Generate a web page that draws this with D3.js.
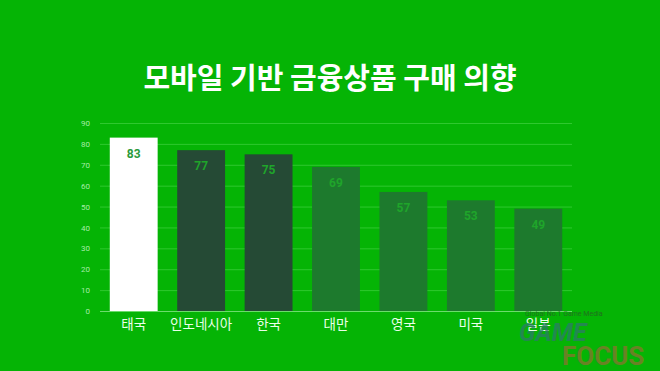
<!DOCTYPE html>
<html>
<head>
<meta charset="utf-8">
<script src="https://cdn.jsdelivr.net/npm/d3@7"></script>
<style>
  body { margin:0; background:#05b405; }
  svg { display:block; font-family:"Noto Sans CJK KR","Noto Sans",sans-serif; }
</style>
</head>
<body>
<script>
var W = 660, H = 371;
var plotLeft = 100, plotRight = 572, plotTop = 123, plotBottom = 311;

var countries = ['태국','인도네시아','한국','대만','영국','미국','일본'];
var values = [83, 77, 75, 69, 57, 53, 49];
var barColors = ['#ffffff','#254a35','#254a35','#1d7a2d','#1d7a2d','#1d7a2d','#1d7a2d'];
var valueColors = ['#2a9a3a','#1fa52a','#1fa52a','#1fa52a','#1fa52a','#1fa52a','#1fa52a'];
var yTicks = [0,10,20,30,40,50,60,70,80,90];

var svg = d3.select('body').append('svg').attr('width',W).attr('height',H);

svg.append('text')
  .attr('x',330).attr('y',89)
  .attr('text-anchor','middle')
  .attr('fill','#fff')
  .attr('font-size','29px')
  .attr('font-weight','bold')
  .text('모바일 기반 금융상품 구매 의향');

var x = d3.scaleBand().domain(countries).range([plotLeft,plotRight]).paddingInner(0.29).paddingOuter(0.145);
var y = d3.scaleLinear().domain([0,90]).range([plotBottom,plotTop]);

// grid
svg.append('g').selectAll('line')
  .data(yTicks.slice(1))
  .enter().append('line')
  .attr('x1',plotLeft).attr('x2',plotRight)
  .attr('y1',d=>y(d)+0.5).attr('y2',d=>y(d)+0.5)
  .attr('stroke','#2fc82f').attr('stroke-width',1);

var yAxis = d3.axisLeft(y).tickValues(yTicks).tickSize(0).tickPadding(10);
var gy = svg.append('g').attr('transform','translate('+plotLeft+',0)').call(yAxis);
gy.select('.domain').remove();
gy.selectAll('text').attr('fill','#a6eca6').attr('font-size','8px').attr('font-family','Roboto, sans-serif');

svg.selectAll('rect.bar')
  .data(values)
  .enter().append('rect')
  .attr('class','bar')
  .attr('x',(d,i)=>x(countries[i]))
  .attr('y',d=>y(d))
  .attr('width',x.bandwidth())
  .attr('height',d=>plotBottom-y(d))
  .attr('fill',(d,i)=>barColors[i]);

svg.append('line')
  .attr('x1',plotLeft).attr('x2',plotRight)
  .attr('y1',plotBottom+0.5).attr('y2',plotBottom+0.5)
  .attr('stroke','#6cdc6c');

svg.selectAll('text.val')
  .data(values)
  .enter().append('text')
  .attr('class','val')
  .attr('x',(d,i)=>x(countries[i])+x.bandwidth()/2)
  .attr('y',d=>y(d)+20)
  .attr('text-anchor','middle')
  .attr('fill',(d,i)=>valueColors[i])
  .attr('font-size','12px')
  .attr('font-weight','bold')
  .attr('font-family','Roboto, sans-serif')
  .text(d=>d);

var gx = svg.append('g').attr('transform','translate(0,'+plotBottom+')')
  .call(d3.axisBottom(x).tickSize(0).tickPadding(8));
gx.select('.domain').remove();
gx.selectAll('text').attr('fill','#eaffea').attr('font-size','13.5px')
  .attr('font-family','"Noto Sans CJK KR", sans-serif');

// watermark
var wm = svg.append('g').attr('opacity',0.75);
wm.append('text').attr('x',525).attr('y',316).attr('font-size','7px')
  .attr('fill','#2a5a2a').attr('font-family','Roboto, sans-serif').text('Global No.1 Game Media');
wm.append('text').attr('x',519).attr('y',341).attr('font-size','25px').attr('font-weight','bold')
  .attr('font-style','italic').attr('fill','#2e7a6a').attr('font-family','Roboto, sans-serif').text('GAME');
wm.append('text').attr('x',562).attr('y',365).attr('font-size','26px').attr('font-weight','bold')
  .attr('fill','#8a7230').attr('font-family','Roboto, sans-serif').text('FOCUS');
</script>
</body>
</html>
